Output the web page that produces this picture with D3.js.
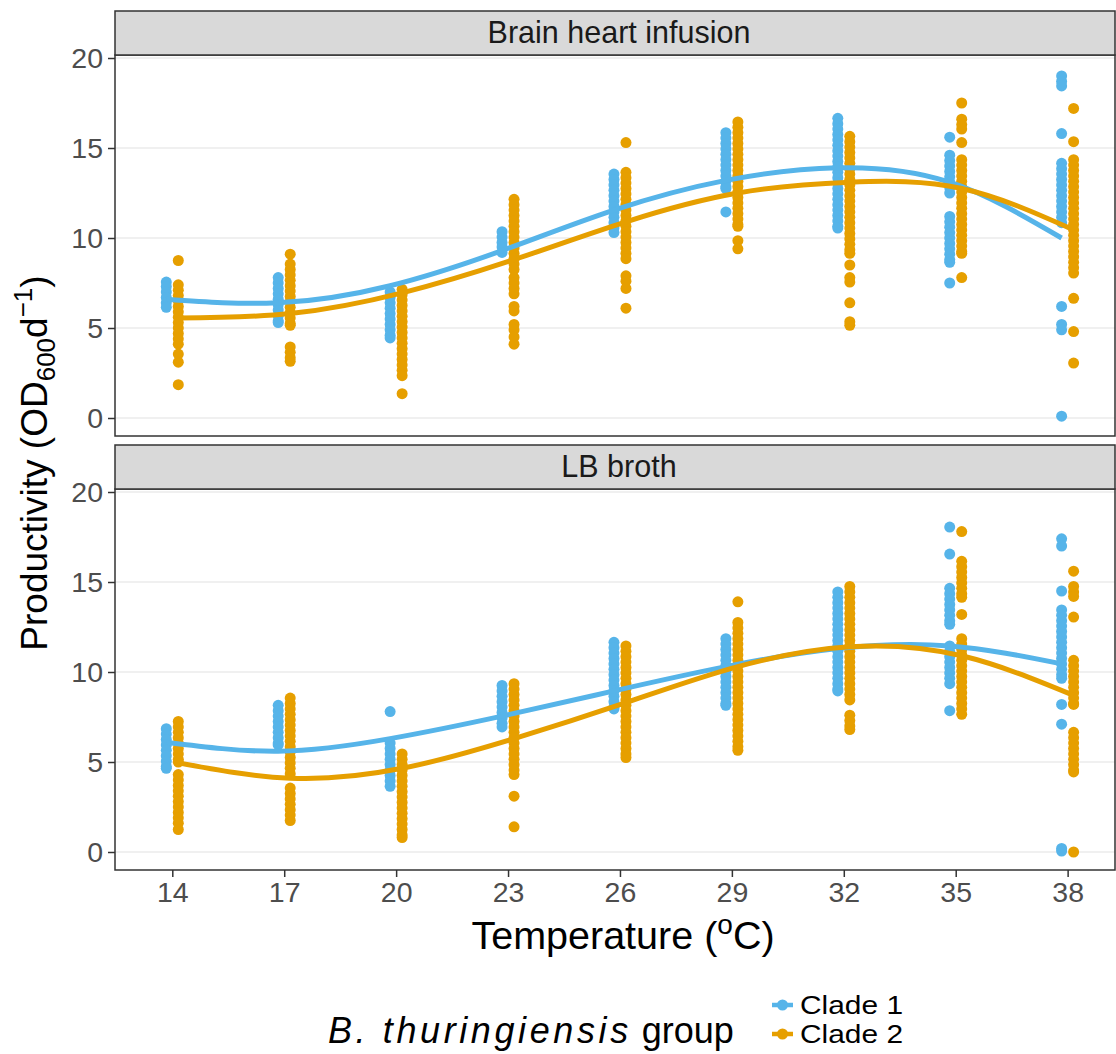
<!DOCTYPE html>
<html>
<head>
<meta charset="utf-8">
<script src="https://cdn.jsdelivr.net/npm/d3@7"></script>
<style>
  html, body { margin: 0; padding: 0; background: #fff; }
  svg { display: block; font-family: "Liberation Sans", Arial, sans-serif; }
</style>
</head>
<body>
<svg id="chart" width="1116" height="1054"></svg>
<script>
// ---------------- DATA ----------------
const temps = [14, 17, 20, 23, 26, 29, 32, 35, 38];
const clades = ["Clade 1", "Clade 2"];
const media = ["Brain heart infusion", "LB broth"];
const yTicks = [0, 5, 10, 15, 20];

// Brain heart infusion, Clade 1 : observations per temperature
const bhiClade1 = [
  [7.55,7.3,7.0,6.7,6.4,6.15],
  [7.8,7.5,7.2,6.9,6.6,6.3,6.0,5.7,5.4,5.3],
  [7.0,6.7,6.4,6.1,5.8,5.5,5.2,4.9,4.6,4.45],
  [10.35,10.05,9.75,9.5,9.2],
  [13.55,13.25,12.95,12.65,12.35,12.05,11.75,11.45,11.15,10.85,10.55,10.3],
  [15.85,15.55,15.25,14.95,14.65,14.35,14.05,13.75,13.45,13.15,12.85,12.75,11.45],
  [16.65,16.35,16.05,15.75,15.45,15.15,14.85,14.55,14.25,13.95,13.65,13.35,13.05,12.75,12.45,12.15,11.85,11.55,11.25,10.95,10.65,10.55],
  [15.6,14.6,14.3,14.0,13.7,13.4,13.1,12.8,12.5,11.2,10.9,10.6,10.3,10.0,9.7,9.4,9.1,8.8,8.65,7.5],
  [19.0,18.7,18.45,15.8,14.15,13.85,13.55,13.25,12.95,12.65,12.35,12.05,11.75,11.45,11.15,10.85,6.2,5.2,4.9,0.1]
];
// Brain heart infusion, Clade 2
const bhiClade2 = [
  [8.75,7.4,7.1,6.8,6.5,6.2,5.9,5.6,5.3,5.0,4.7,4.4,4.1,3.55,3.1,1.85],
  [9.1,8.55,8.25,7.95,7.65,7.35,7.05,6.75,6.45,6.15,5.85,5.55,5.25,5.15,3.95,3.65,3.35,3.15],
  [7.15,6.85,6.55,6.25,5.95,5.65,5.35,5.05,4.75,4.45,4.15,3.85,3.55,3.25,2.95,2.65,2.35,1.35],
  [12.15,11.85,11.55,11.25,10.95,10.65,10.35,10.05,9.75,9.45,9.15,8.85,8.55,8.25,7.8,7.5,7.2,6.9,6.2,5.95,5.2,4.9,4.5,4.1],
  [15.3,13.65,13.35,13.05,12.75,12.45,12.15,11.85,11.55,11.25,10.95,10.65,10.35,10.05,9.75,9.45,9.15,8.85,7.9,7.6,7.2,6.1],
  [16.45,16.15,15.85,15.55,15.25,14.95,14.65,14.35,14.05,13.75,13.45,13.15,12.85,12.55,12.25,11.95,11.65,11.35,11.05,10.75,10.65,9.85,9.4],
  [15.65,15.35,15.05,14.75,14.45,14.15,13.85,13.55,13.25,12.95,12.65,12.35,12.05,11.75,11.45,11.15,10.85,10.55,10.25,9.95,9.65,9.35,9.15,8.5,7.8,7.55,6.4,5.35,5.15],
  [17.5,16.6,16.3,16.05,15.3,14.35,14.05,13.75,13.45,13.15,12.85,12.55,12.25,11.95,11.65,11.35,11.05,10.75,10.45,10.15,9.85,9.55,9.25,9.15,7.8],
  [17.2,15.35,14.35,14.05,13.75,13.45,13.15,12.85,12.55,12.25,11.95,11.65,11.35,11.05,10.75,10.45,10.15,9.85,9.55,9.25,8.95,8.65,8.35,8.05,6.65,4.8,3.05]
];
// LB broth, Clade 1
const lbClade1 = [
  [6.85,6.55,6.25,5.95,5.65,5.35,5.05,4.75,4.65],
  [8.15,7.85,7.55,7.25,6.95,6.65,6.35,6.05,5.95],
  [7.8,6.05,5.75,5.45,5.15,4.85,4.55,4.25,3.95,3.65],
  [9.25,8.95,8.65,8.35,8.05,7.75,7.45,7.15,6.95],
  [11.65,11.35,11.05,10.75,10.45,10.15,9.85,9.55,9.25,8.95,8.65,8.35,8.05,7.95],
  [11.85,11.55,11.25,10.95,10.65,10.35,10.05,9.75,9.45,9.15,8.85,8.55,8.25,8.15],
  [14.45,14.15,13.85,13.55,13.25,12.95,12.65,12.35,12.05,11.75,11.45,11.15,10.85,10.55,10.25,9.95,9.65,9.35,9.05,8.95],
  [18.05,16.55,14.65,14.35,14.05,13.75,13.45,13.15,12.85,12.65,11.45,11.15,10.85,10.55,10.25,9.95,9.65,9.35,7.85],
  [17.4,17.0,14.5,13.45,13.15,12.85,12.55,12.25,11.95,11.65,11.35,11.05,10.75,10.45,10.15,9.85,9.65,8.2,7.1,0.2,0.05]
];
// LB broth, Clade 2
const lbClade2 = [
  [7.25,6.95,6.65,6.35,6.05,5.75,5.45,5.15,5.0,4.3,4.0,3.7,3.4,3.1,2.8,2.5,2.2,1.9,1.6,1.25],
  [8.55,8.25,7.95,7.65,7.35,7.05,6.75,6.45,6.15,5.85,5.55,5.25,4.95,4.65,4.35,3.55,3.25,2.95,2.65,2.35,2.05,1.75],
  [5.45,5.15,4.85,4.55,4.25,3.95,3.65,3.35,3.05,2.75,2.45,2.15,1.85,1.55,1.25,0.95,0.8],
  [9.35,9.05,8.75,8.45,8.15,7.85,7.55,7.25,6.95,6.65,6.35,6.05,5.75,5.45,5.15,4.85,4.55,4.3,3.1,1.4],
  [11.45,11.15,10.85,10.55,10.25,9.95,9.65,9.35,9.05,8.75,8.45,8.15,7.85,7.55,7.25,6.95,6.65,6.35,6.05,5.75,5.45,5.25],
  [13.9,12.75,12.45,12.15,11.85,11.55,11.25,10.95,10.65,10.35,10.05,9.75,9.45,9.15,8.85,8.55,8.25,7.95,7.65,7.35,7.05,6.75,6.45,6.15,5.85,5.65],
  [14.75,14.45,14.15,13.85,13.55,13.25,12.95,12.65,12.35,12.05,11.75,11.45,11.15,10.85,10.55,10.25,9.95,9.65,9.35,9.05,8.75,8.45,7.6,7.3,7.0,6.8],
  [17.8,16.15,15.85,15.55,15.25,14.95,14.65,14.35,14.15,13.2,11.85,11.55,11.25,10.95,10.65,10.35,10.05,9.75,9.45,9.15,8.85,8.55,8.25,7.95,7.65],
  [15.6,14.75,14.45,14.2,13.05,10.65,10.35,10.05,9.75,9.45,9.15,8.85,8.55,8.25,8.2,6.65,6.35,6.05,5.75,5.45,5.15,4.85,4.55,4.45,0.0]
];

// Fitted curves (value of the smooth at each temperature)
const bhiFit1 = [6.6, 6.4, 7.35, 9.3, 11.55, 13.2, 13.9, 13.1, 10.0];
const bhiFit2 = [5.55, 5.8, 6.95, 8.8, 10.9, 12.5, 13.1, 12.75, 10.45];
const lbFit1  = [6.1, 5.6, 6.3, 7.55, 8.95, 10.3, 11.3, 11.45, 10.45];
const lbFit2  = [4.95, 4.1, 4.65, 6.3, 8.3, 10.3, 11.4, 10.9, 8.7];

// ---------------- LAYOUT ----------------
const colors = ["#56B4E9", "#E69F00"];
const panels = [
  { name: media[0], obs: [bhiClade1, bhiClade2], fits: [bhiFit1, bhiFit2], stripTop: 11, top: 55, bottom: 436 },
  { name: media[1], obs: [lbClade1, lbClade2], fits: [lbFit1, lbFit2], stripTop: 445, top: 489, bottom: 870 }
];
const left = 115, right = 1115;
const dodge = [-6, 6];
const ptR = 5.5;

const svg = d3.select("#chart");
const x = d3.scaleLinear().domain([12.464, 39.27]).range([left, right]);

panels.forEach(p => {
  const y = d3.scaleLinear().domain([-1, 20.167]).range([p.bottom, p.top]);
  const g = svg.append("g");

  g.append("rect").attr("x", left).attr("y", p.top).attr("width", right - left).attr("height", p.bottom - p.top).attr("fill", "#fff");

  // gridlines
  g.selectAll("line.grid").data(yTicks).join("line")
    .attr("x1", left).attr("x2", right)
    .attr("y1", d => y(d)).attr("y2", d => y(d))
    .attr("stroke", "#EBEBEB").attr("stroke-width", 1.6);

  // points
  p.obs.forEach((series, ci) => {
    const pts = [];
    series.forEach((vals, ti) => vals.forEach(v => pts.push({ t: temps[ti], v })));
    g.append("g").selectAll("circle").data(pts).join("circle")
      .attr("cx", d => x(d.t) + dodge[ci])
      .attr("cy", d => y(d.v))
      .attr("r", ptR)
      .attr("fill", colors[ci]);
  });

  // fitted lines
  p.fits.forEach((fit, ci) => {
    const line = d3.line()
      .x((d, i) => x(temps[i]) + dodge[ci])
      .y(d => y(d))
      .curve(d3.curveNatural);
    g.append("path").attr("d", line(fit))
      .attr("fill", "none").attr("stroke", colors[ci]).attr("stroke-width", 5)
      .attr("stroke-linecap", "butt");
  });

  // panel border
  g.append("rect").attr("x", left).attr("y", p.top).attr("width", right - left).attr("height", p.bottom - p.top)
    .attr("fill", "none").attr("stroke", "#333333").attr("stroke-width", 1.5);

  // strip
  g.append("rect").attr("x", left).attr("y", p.stripTop).attr("width", right - left).attr("height", p.top - p.stripTop)
    .attr("fill", "#D9D9D9").attr("stroke", "#333333").attr("stroke-width", 1.5);
  g.append("text").attr("x", 619).attr("y", p.top - 12)
    .attr("text-anchor", "middle").attr("font-size", 30.5).attr("fill", "#1A1A1A").text(p.name);

  // y axis
  const yAxis = d3.axisLeft(y).tickValues(yTicks).tickSize(7).tickPadding(5);
  const ya = g.append("g").attr("transform", `translate(${left},0)`).call(yAxis);
  ya.select(".domain").remove();
  ya.selectAll(".tick line").attr("stroke", "#333333").attr("stroke-width", 1.5);
  ya.selectAll(".tick text").attr("fill", "#4D4D4D").attr("font-size", 28.5)
    .attr("font-family", "Liberation Sans, Arial, sans-serif");
});

// x axis (bottom panel only)
const xAxis = d3.axisBottom(x).tickValues(temps).tickSize(7).tickPadding(5).tickFormat(d3.format("d"));
const xa = svg.append("g").attr("transform", `translate(0,${panels[1].bottom})`).call(xAxis);
xa.select(".domain").remove();
xa.selectAll(".tick line").attr("stroke", "#333333").attr("stroke-width", 1.5);
xa.selectAll(".tick text").attr("fill", "#4D4D4D").attr("font-size", 28.5)
  .attr("font-family", "Liberation Sans, Arial, sans-serif");

// x title
const xt = svg.append("text").attr("x", 623).attr("y", 949).attr("text-anchor", "middle").attr("font-size", 39.5).attr("fill", "#000");
xt.append("tspan").text("Temperature (");
xt.append("tspan").attr("font-size", 28).attr("dy", -15).text("o");
xt.append("tspan").attr("dy", 15).text("C)");

// y title
const yt = svg.append("text").attr("transform", "translate(47,463) rotate(-90)")
  .attr("text-anchor", "middle").attr("font-size", 37).attr("fill", "#000");
yt.append("tspan").text("Productivity (OD");
yt.append("tspan").attr("font-size", 26).attr("dy", 8).text("600");
yt.append("tspan").attr("dy", -8).text("d");
yt.append("tspan").attr("font-size", 26).attr("dy", -15).text("\u22121");
yt.append("tspan").attr("dy", 15).text(")");

// legend
const lt = svg.append("text").attr("x", 328).attr("y", 1043).attr("font-size", 36).attr("fill", "#000");
lt.append("tspan").attr("font-style", "italic").attr("letter-spacing", 3.6).text("B. thuringiensis");
lt.append("tspan").text(" group");

clades.forEach((c, i) => {
  const cy = 1005 + i * 29;
  svg.append("line").attr("x1", 772).attr("x2", 793).attr("y1", cy).attr("y2", cy)
    .attr("stroke", colors[i]).attr("stroke-width", 4.5);
  svg.append("circle").attr("cx", 782.5).attr("cy", cy).attr("r", ptR).attr("fill", colors[i]);
  svg.append("text").attr("x", 800).attr("y", cy + 9).attr("font-size", 25)
    .attr("textLength", 103).attr("lengthAdjust", "spacingAndGlyphs")
    .attr("fill", "#000").text(c);
});
</script>
</body>
</html>
